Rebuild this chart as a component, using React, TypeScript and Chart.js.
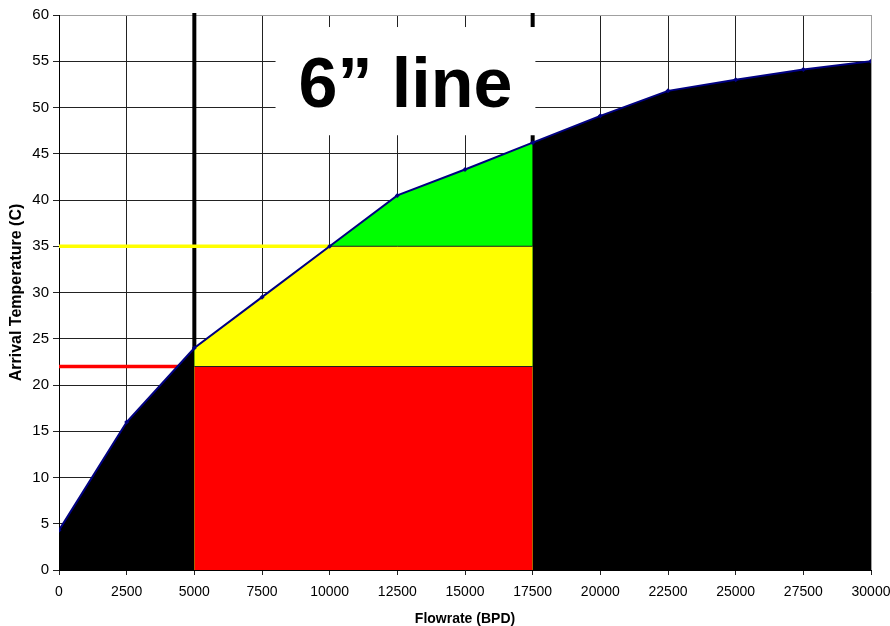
import React, { useEffect, useRef } from 'react';
import { Chart, registerables } from 'chart.js';

Chart.register(...registerables);

// ---- data ----
const flowrates = [0, 2500, 5000, 7500, 10000, 12500, 15000, 17500, 20000, 22500, 25000, 27500, 30000];
const arrivalTemps = [4.3, 16, 24, 29.5, 35, 40.5, 43.3, 46.2, 49.1, 51.8, 53, 54.1, 55];
const xTickValues = [0, 2500, 5000, 7500, 10000, 12500, 15000, 17500, 20000, 22500, 25000, 27500, 30000];
const yTickValues = [0, 5, 10, 15, 20, 25, 30, 35, 40, 45, 50, 55, 60];
const zoneLimits = [5000, 17500];
const lowTempLimit = 22;
const highTempLimit = 35;
const boxLabel = '6\u201D line';
const xTitle = 'Flowrate (BPD)';
const yTitle = 'Arrival Temperature (C)';

const FONT = '"Liberation Sans", Arial, Helvetica, sans-serif';

export default function App() {
  const ref = useRef<HTMLCanvasElement>(null);

  useEffect(() => {
    if (!ref.current) return;
    Chart.defaults.font.family = FONT;

    const main = flowrates.map((x, i) => ({ x, y: arrivalTemps[i] }));
    const zone = main.filter((p) => p.x >= zoneLimits[0] && p.x <= zoneLimits[1]);
    const yellowZone = zone.map((p) => ({ x: p.x, y: Math.min(p.y, highTempLimit) }));
    const redZone = [
      { x: zoneLimits[0], y: lowTempLimit },
      { x: zoneLimits[1], y: lowTempLimit },
    ];
    const xMin = xTickValues[0];
    const xMax = xTickValues[xTickValues.length - 1];
    const yMax = yTickValues[yTickValues.length - 1];

    const annotations = {
      id: 'annotations',
      beforeDatasetsDraw(chart: any) {
        const { ctx, chartArea, scales } = chart;
        const xs = scales.x;
        const ys = scales.y;
        ctx.save();
        // thick vertical limits
        ctx.strokeStyle = '#000';
        ctx.lineWidth = 4;
        ctx.lineCap = 'butt';
        for (const v of zoneLimits) {
          const px = xs.getPixelForValue(v);
          ctx.beginPath();
          ctx.moveTo(px, chartArea.top - 2);
          ctx.lineTo(px, chartArea.bottom);
          ctx.stroke();
        }
        // label box
        const l = xs.getPixelForValue(8000);
        const r = xs.getPixelForValue(17600);
        const t = ys.getPixelForValue(58.7);
        const b = ys.getPixelForValue(47);
        ctx.fillStyle = '#fff';
        ctx.fillRect(l, t, r - l, b - t);
        ctx.fillStyle = '#000';
        ctx.font = `bold 70px ${FONT}`;
        ctx.textAlign = 'center';
        ctx.textBaseline = 'alphabetic';
        ctx.fillText(boxLabel, xs.getPixelForValue(12800), ys.getPixelForValue(50.1));
        ctx.restore();
      },
    };

    const chart = new Chart(ref.current, {
      type: 'line',
      data: {
        datasets: [
          {
            label: 'Arrival temperature',
            data: main,
            borderColor: '#000080',
            borderWidth: 2,
            pointStyle: 'rectRot',
            pointRadius: 2.5,
            pointBackgroundColor: '#000080',
            pointBorderColor: '#000080',
            pointBorderWidth: 0,
            fill: false,
            order: 1,
          },
          {
            label: 'red zone',
            data: redZone,
            borderColor: '#202020',
            borderWidth: 1,
            backgroundColor: '#ff0000',
            pointRadius: 0,
            fill: 'origin',
            order: 5,
          },
          {
            label: 'yellow zone',
            data: yellowZone,
            borderColor: '#202020',
            borderWidth: 1,
            backgroundColor: '#ffff00',
            pointRadius: 0,
            fill: 'origin',
            order: 6,
          },
          {
            label: 'green zone',
            data: zone,
            borderColor: 'transparent',
            borderWidth: 0,
            backgroundColor: '#00ff00',
            pointRadius: 0,
            fill: 'origin',
            order: 7,
          },
          {
            label: 'area',
            data: main,
            borderColor: 'transparent',
            borderWidth: 0,
            backgroundColor: '#000000',
            pointRadius: 0,
            fill: 'origin',
            order: 8,
          },
          {
            label: 'high limit',
            data: [
              { x: xMin, y: highTempLimit },
              { x: xMax, y: highTempLimit },
            ],
            borderColor: '#ffff00',
            borderWidth: 3.5,
            pointRadius: 0,
            fill: false,
            order: 9,
          },
          {
            label: 'low limit',
            data: [
              { x: xMin, y: lowTempLimit },
              { x: xMax, y: lowTempLimit },
            ],
            borderColor: '#ff0000',
            borderWidth: 3.5,
            pointRadius: 0,
            fill: false,
            order: 10,
          },
        ],
      },
      options: {
        responsive: false,
        animation: false,
        devicePixelRatio: 1,
        events: [],
        layout: { padding: { top: 15, right: 19, left: 0, bottom: 0 } },
        plugins: {
          legend: { display: false },
          tooltip: { enabled: false },
        },
        scales: {
          x: {
            type: 'linear',
            min: xMin,
            max: xMax,
            afterBuildTicks: (s: any) => {
              s.ticks = xTickValues.map((v) => ({ value: v }));
            },
            afterFit: (s: any) => {
              s.height = 56;
              s.paddingLeft = 0;
              s.paddingRight = 0;
            },
            ticks: {
              autoSkip: false,
              maxRotation: 0,
              minRotation: 0,
              padding: 9,
              color: '#000',
              font: { size: 14 },
              callback: (v: any) => String(v),
            },
            grid: {
              color: (c: any) => (c.tick && c.tick.value === xMax ? '#a0a0a0' : '#222'),
              tickColor: '#222',
              tickLength: 5,
              lineWidth: 1,
            },
            border: { display: true, color: '#000', width: 1 },
            title: {
              display: true,
              text: xTitle,
              color: '#000',
              font: { size: 14, weight: 'bold', lineHeight: 1 },
              padding: { top: 0, bottom: 0 },
            },
          },
          y: {
            type: 'linear',
            min: 0,
            max: yMax,
            afterBuildTicks: (s: any) => {
              s.ticks = yTickValues.map((v) => ({ value: v }));
            },
            afterFit: (s: any) => {
              s.width = 59;
              s.paddingTop = 0;
              s.paddingBottom = 0;
            },
            ticks: {
              padding: 4,
              color: '#000',
              font: { size: 15 },
              callback: (v: any) => String(v),
            },
            grid: {
              color: (c: any) => (c.tick && c.tick.value === yMax ? '#a0a0a0' : '#222'),
              tickColor: '#222',
              tickLength: 6,
              lineWidth: 1,
            },
            border: { display: true, color: '#000', width: 1 },
            title: {
              display: true,
              text: yTitle,
              color: '#000',
              font: { size: 16, weight: 'bold', lineHeight: 1 },
              padding: { top: 9, bottom: 0 },
            },
          },
        },
      },
      plugins: [annotations],
    } as any);

    return () => chart.destroy();
  }, []);

  return (
    <canvas
      ref={ref}
      width={890}
      height={626}
      style={{ position: 'absolute', left: 0, top: 0, display: 'block' }}
    />
  );
}
